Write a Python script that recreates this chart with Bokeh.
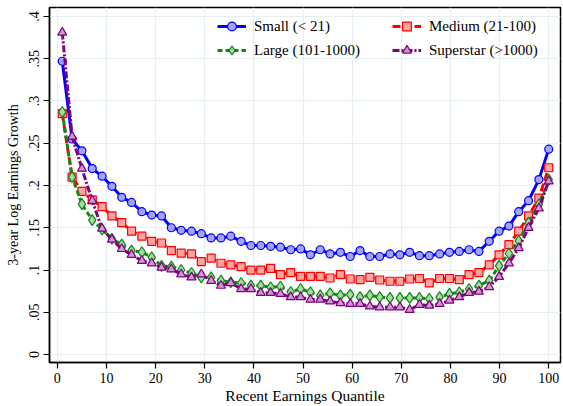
from bokeh.plotting import figure
from bokeh.models import FixedTicker, Legend, LegendItem
from bokeh.embed import file_html
from bokeh.resources import INLINE

quantile = [1.0, 3.0, 5.0, 7.1, 9.1, 11.1, 13.1, 15.1, 17.2, 19.2,
            21.2, 23.2, 25.2, 27.3, 29.3, 31.3, 33.3, 35.3, 37.4, 39.4,
            41.4, 43.4, 45.4, 47.5, 49.5, 51.5, 53.5, 55.5, 57.6, 59.6,
            61.6, 63.6, 65.6, 67.7, 69.7, 71.7, 73.7, 75.7, 77.8, 79.8,
            81.8, 83.8, 85.8, 87.9, 89.9, 91.9, 93.9, 95.9, 98.0, 100.0]

small = [0.347, 0.255, 0.241, 0.220, 0.211, 0.199, 0.186, 0.180, 0.169, 0.165,
         0.164, 0.150, 0.147, 0.146, 0.143, 0.138, 0.138, 0.140, 0.134, 0.129,
         0.129, 0.128, 0.127, 0.124, 0.125, 0.118, 0.124, 0.119, 0.121, 0.116,
         0.123, 0.116, 0.116, 0.119, 0.118, 0.121, 0.117, 0.117, 0.119, 0.121,
         0.122, 0.124, 0.122, 0.134, 0.146, 0.152, 0.169, 0.182, 0.207, 0.243]

medium = [0.285, 0.210, 0.193, 0.183, 0.175, 0.164, 0.156, 0.146, 0.140, 0.134,
          0.132, 0.123, 0.120, 0.119, 0.110, 0.114, 0.108, 0.106, 0.104, 0.100,
          0.100, 0.102, 0.0945, 0.097, 0.0925, 0.0925, 0.0925, 0.0906, 0.0945, 0.0894,
          0.0886, 0.0914, 0.0882, 0.0867, 0.0867, 0.0894, 0.090, 0.0847, 0.090, 0.090,
          0.0886, 0.0945, 0.097, 0.106, 0.118, 0.130, 0.146, 0.164, 0.185, 0.221]

large = [0.287, 0.210, 0.178, 0.159, 0.148, 0.137, 0.130, 0.123, 0.121, 0.115,
         0.105, 0.104, 0.100, 0.0965, 0.0914, 0.0914, 0.0874, 0.0855, 0.0847, 0.0815,
         0.0815, 0.0796, 0.0805, 0.074, 0.0776, 0.0737, 0.070, 0.0725, 0.070, 0.071,
         0.068, 0.070, 0.068, 0.067, 0.067, 0.067, 0.067, 0.066, 0.068, 0.0718,
         0.0737, 0.0776, 0.0815, 0.0874, 0.105, 0.1196, 0.1345, 0.156, 0.1776, 0.207]

superstar = [0.381, 0.258, 0.220, 0.182, 0.149, 0.136, 0.125, 0.118, 0.111, 0.108,
             0.103, 0.101, 0.095, 0.0914, 0.095, 0.0874, 0.0815, 0.0847, 0.0776, 0.0776,
             0.073, 0.073, 0.0718, 0.068, 0.068, 0.065, 0.065, 0.063, 0.061, 0.060,
             0.060, 0.057, 0.056, 0.056, 0.056, 0.053, 0.059, 0.058, 0.060, 0.064,
             0.068, 0.073, 0.0745, 0.080, 0.092, 0.108, 0.126, 0.150, 0.173, 0.205]

labels = ["Small (< 21)", "Medium (21-100)", "Large (101-1000)", "Superstar (>1000)"]
x_ticks = [0, 10, 20, 30, 40, 50, 60, 70, 80, 90, 100]
y_ticks = [0, 0.05, 0.1, 0.15, 0.2, 0.25, 0.3, 0.35, 0.4]
y_tick_labels = ["0", ".05", ".1", ".15", ".2", ".25", ".3", ".35", ".4"]

FONT = "Liberation Serif"

p = figure(width=563, height=406, x_range=(-1.6, 102.4), y_range=(-0.0094, 0.4106),
           output_backend="svg", toolbar_location=None,
           min_border_left=49, min_border_right=3, min_border_top=7, min_border_bottom=42)

p.background_fill_color = "white"
p.border_fill_color = "white"
p.outline_line_color = "black"
p.outline_line_width = 1.5

p.xgrid.grid_line_color = "#e6eff1"
p.ygrid.grid_line_color = "#e6eff1"
p.xgrid.grid_line_width = 1.2
p.ygrid.grid_line_width = 1.2

p.xaxis.ticker = FixedTicker(ticks=x_ticks)
p.yaxis.ticker = FixedTicker(ticks=y_ticks)
p.yaxis.major_label_overrides = {t: l for t, l in zip(y_ticks, y_tick_labels)}
p.yaxis.major_label_orientation = "vertical"

for ax in (p.xaxis, p.yaxis):
    ax.axis_line_color = "black"
    ax.axis_line_width = 1.5
    ax.major_tick_line_color = "black"
    ax.major_tick_line_width = 1.2
    ax.major_tick_out = 6
    ax.major_tick_in = 0
    ax.minor_tick_line_color = None
    ax.major_label_text_font = FONT
    ax.major_label_text_font_size = "14px"
    ax.major_label_text_color = "black"
    ax.axis_label_text_font = FONT
    ax.axis_label_text_font_style = "normal"
    ax.axis_label_text_color = "black"

p.xaxis.axis_label = "Recent Earnings Quantile"
p.yaxis.axis_label = "3-year Log Earnings Growth"
p.xaxis.axis_label_text_font_size = "15.5px"
p.yaxis.axis_label_text_font_size = "14px"
p.xaxis.major_label_standoff = 4
p.xaxis.axis_label_standoff = 1
p.yaxis.major_label_standoff = 4
p.yaxis.axis_label_standoff = 6

series = [
    (small, "#0000ff", "#a3a3ff", "solid", "circle", 8),
    (medium, "#ff0000", "#ffa3a3", "8 3", "square", 8),
    (large, "#118811", "#a8d8a8", "5 3", "diamond", 11),
    (superstar, "#800080", "#cc99cc", "7 2 2 2", "triangle", 9),
]

items = []
for (vals, col, fill, dash, marker, size), lab in zip(series, labels):
    r1 = p.line(quantile, vals, line_color=col, line_width=3, line_dash=dash)
    r2 = p.scatter(quantile, vals, marker=marker, size=size, line_color=col,
                   fill_color=fill, line_width=1.2)
    items.append(LegendItem(label=lab, renderers=[r1, r2]))

# order for two columns: Small, Large | Medium, Superstar
legend = Legend(items=[items[0], items[2], items[1], items[3]],
                location=(168, 301), orientation="vertical", ncols=2)
legend.background_fill_alpha = 0
legend.border_line_alpha = 0
legend.padding = 0
legend.margin = 0
legend.spacing = 2
legend.glyph_width = 29
legend.glyph_height = 22
legend.label_height = 22
legend.label_width = 136
legend.label_standoff = 8
legend.label_text_font = FONT
legend.label_text_font_size = "15px"
legend.label_text_color = "black"
p.add_layout(legend, "center")

open("out.html", "w").write(file_html(p, INLINE))
